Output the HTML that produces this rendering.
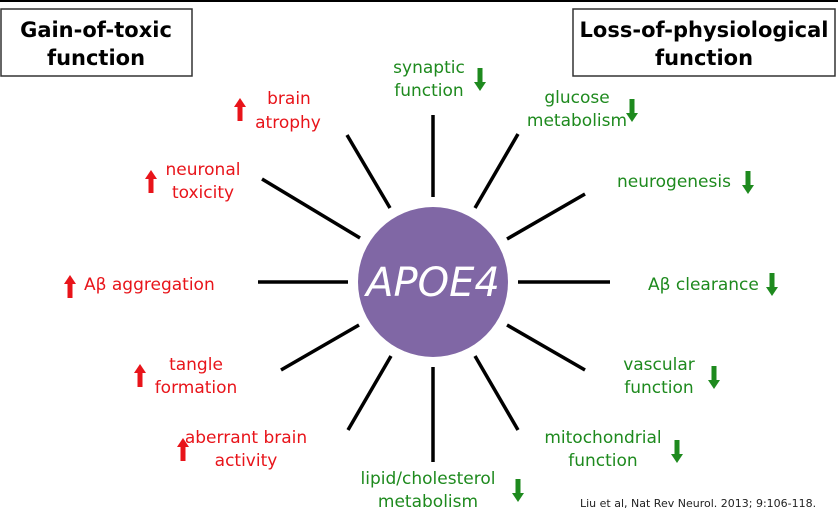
<!DOCTYPE html>
<html><head><meta charset="utf-8"><style>
body{margin:0;background:#fff;width:838px;height:522px;overflow:hidden}
svg{display:block}
text{font-family:"DejaVu Sans","Liberation Sans",sans-serif}
.r{fill:#e8141a;font-size:17px}
.g{fill:#1e8a1e;font-size:17px}
</style></head><body>
<svg width="838" height="522" viewBox="0 0 838 522">
<defs>
<g id="up"><rect x="-2.5" y="-4" width="5" height="15" fill="#e8141a"/><polygon points="-6,-3 6,-3 0,-12" fill="#e8141a"/></g>
<g id="dn"><rect x="-2.5" y="-11" width="5" height="15" fill="#1e8a1e"/><polygon points="-6,3 6,3 0,12" fill="#1e8a1e"/></g>
</defs>
<line x1="0" y1="1" x2="838" y2="1" stroke="#000" stroke-width="2"/>
<rect x="1" y="9" width="191" height="67" fill="#fff" stroke="#333" stroke-width="1.5"/>
<text x="96" y="37" text-anchor="middle" font-size="21" font-weight="bold">Gain-of-toxic</text>
<text x="96" y="65" text-anchor="middle" font-size="21" font-weight="bold">function</text>
<rect x="573" y="9" width="262" height="67" fill="#fff" stroke="#333" stroke-width="1.5"/>
<text x="704" y="37" text-anchor="middle" font-size="21" font-weight="bold">Loss-of-physiological</text>
<text x="704" y="65" text-anchor="middle" font-size="21" font-weight="bold">function</text>
<g stroke="#000" stroke-width="3.5">
<line x1="433" y1="197" x2="433" y2="115"/>
<line x1="475" y1="208" x2="518" y2="134"/>
<line x1="507" y1="239" x2="585" y2="194"/>
<line x1="518" y1="282" x2="610" y2="282"/>
<line x1="507" y1="325" x2="585" y2="370"/>
<line x1="475" y1="356" x2="518" y2="430"/>
<line x1="433" y1="367" x2="433" y2="462"/>
<line x1="391" y1="356" x2="348" y2="430"/>
<line x1="359" y1="325" x2="281" y2="370"/>
<line x1="348" y1="282" x2="258" y2="282"/>
<line x1="360" y1="238" x2="262" y2="179"/>
<line x1="390" y1="208" x2="347" y2="135"/>
</g>
<circle cx="433" cy="282" r="80" fill="#fff"/>
<circle cx="433" cy="282" r="75" fill="#8067a5"/>
<text x="433" y="296" text-anchor="middle" font-size="40" font-style="italic" fill="#fff">APOE4</text>
<use href="#up" x="240" y="110"/>
<text class="r" x="289" y="104" text-anchor="middle">brain</text>
<text class="r" x="288" y="128" text-anchor="middle">atrophy</text>
<use href="#up" x="151" y="182"/>
<text class="r" x="203" y="175" text-anchor="middle">neuronal</text>
<text class="r" x="203" y="198" text-anchor="middle">toxicity</text>
<use href="#up" x="70" y="287"/>
<text class="r" x="84" y="290">Aβ aggregation</text>
<use href="#up" x="140" y="376"/>
<text class="r" x="196" y="370" text-anchor="middle">tangle</text>
<text class="r" x="196" y="393" text-anchor="middle">formation</text>
<use href="#up" x="183" y="450"/>
<text class="r" x="246" y="443" text-anchor="middle">aberrant brain</text>
<text class="r" x="246" y="466" text-anchor="middle">activity</text>
<text class="g" x="429" y="73" text-anchor="middle">synaptic</text>
<text class="g" x="429" y="96" text-anchor="middle">function</text>
<use href="#dn" x="480" y="79"/>
<text class="g" x="577" y="103" text-anchor="middle">glucose</text>
<text class="g" x="577" y="126" text-anchor="middle">metabolism</text>
<use href="#dn" x="632" y="110"/>
<text class="g" x="617" y="187">neurogenesis</text>
<use href="#dn" x="748" y="182"/>
<text class="g" x="648" y="290">Aβ clearance</text>
<use href="#dn" x="772" y="284"/>
<text class="g" x="659" y="370" text-anchor="middle">vascular</text>
<text class="g" x="659" y="393" text-anchor="middle">function</text>
<use href="#dn" x="714" y="377"/>
<text class="g" x="603" y="443" text-anchor="middle">mitochondrial</text>
<text class="g" x="603" y="466" text-anchor="middle">function</text>
<use href="#dn" x="677" y="451"/>
<text class="g" x="428" y="484" text-anchor="middle">lipid/cholesterol</text>
<text class="g" x="428" y="507" text-anchor="middle">metabolism</text>
<use href="#dn" x="518" y="490"/>
<text x="580" y="507" font-size="11" font-family="Liberation Sans,sans-serif" fill="#222">Liu et al, Nat Rev Neurol. 2013; 9:106-118.</text>
</svg>
</body></html>
